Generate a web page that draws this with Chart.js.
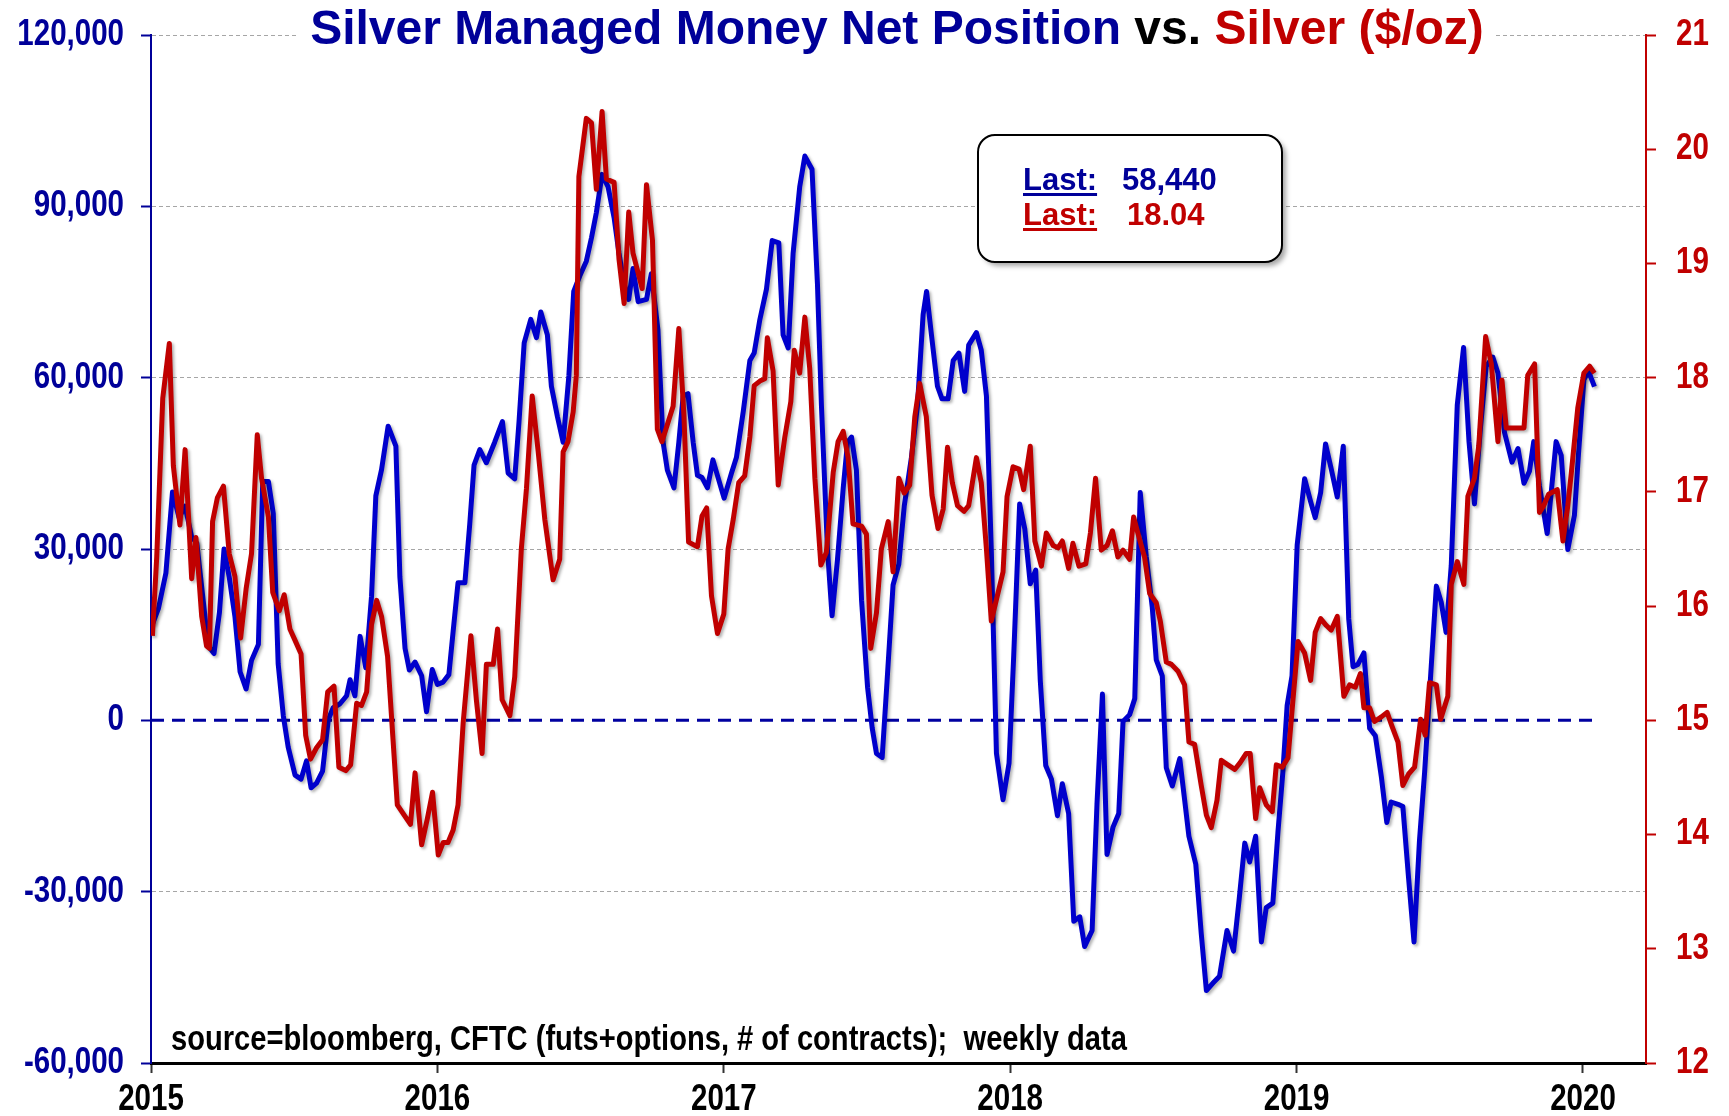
<!DOCTYPE html>
<html lang="en">
<head>
<meta charset="UTF-8">
<title>Silver Managed Money Net Position vs. Silver</title>
<script src="https://cdn.jsdelivr.net/npm/chart.js"></script>
<style>
    body { margin: 0; padding: 0; background: #fff; }
    #wrap { width: 1729px; height: 1116px; position: relative; }
</style>
</head>
<body>
<div id="wrap">
    <canvas id="myChart" width="1729" height="1116"></canvas>
</div>
<script>
    // weekly data, dates as decimal years
    const netDates = [
        2015.005,2015.026,2015.052,2015.075,2015.098,2015.119,2015.142,2015.160,2015.180,2015.200,
        2015.220,2015.239,2015.255,2015.273,2015.293,2015.311,2015.332,2015.351,2015.375,2015.390,
        2015.410,2015.427,2015.444,2015.462,2015.479,2015.503,2015.524,2015.543,2015.559,2015.578,
        2015.599,2015.619,2015.636,2015.660,2015.683,2015.695,2015.712,2015.730,2015.750,2015.770,
        2015.785,2015.805,2015.828,2015.855,2015.869,2015.887,2015.902,2015.922,2015.945,2015.962,
        2015.982,2016.000,2016.020,2016.040,2016.055,2016.072,2016.096,2016.113,2016.128,2016.148,
        2016.171,2016.200,2016.227,2016.247,2016.270,2016.285,2016.303,2016.326,2016.346,2016.361,
        2016.384,2016.398,2016.419,2016.439,2016.459,2016.476,2016.497,2016.520,2016.538,2016.555,
        2016.575,2016.596,2016.617,2016.634,2016.652,2016.668,2016.683,2016.701,2016.730,2016.747,
        2016.770,2016.788,2016.803,2016.826,2016.843,2016.858,2016.875,2016.893,2016.908,2016.924,
        2016.943,2016.962,2016.980,2017.001,2017.027,2017.044,2017.068,2017.091,2017.106,2017.126,
        2017.149,2017.169,2017.192,2017.207,2017.225,2017.242,2017.265,2017.283,2017.308,2017.327,
        2017.341,2017.362,2017.378,2017.397,2017.417,2017.432,2017.446,2017.463,2017.481,2017.502,
        2017.518,2017.533,2017.553,2017.571,2017.591,2017.611,2017.630,2017.655,2017.676,2017.696,
        2017.708,2017.725,2017.746,2017.762,2017.783,2017.801,2017.821,2017.841,2017.855,2017.882,
        2017.899,2017.917,2017.934,2017.952,2017.975,2017.996,2018.012,2018.033,2018.051,2018.070,
        2018.089,2018.105,2018.124,2018.144,2018.165,2018.182,2018.204,2018.222,2018.243,2018.260,
        2018.286,2018.303,2018.322,2018.338,2018.359,2018.379,2018.394,2018.417,2018.435,2018.454,
        2018.475,2018.496,2018.510,2018.531,2018.545,2018.566,2018.592,2018.609,2018.624,2018.648,
        2018.667,2018.685,2018.708,2018.731,2018.757,2018.780,2018.799,2018.819,2018.836,2018.857,
        2018.877,2018.894,2018.917,2018.935,2018.952,2018.967,2018.984,2019.002,2019.028,2019.049,
        2019.065,2019.084,2019.101,2019.121,2019.142,2019.163,2019.182,2019.197,2019.214,2019.235,
        2019.255,2019.275,2019.296,2019.315,2019.330,2019.354,2019.371,2019.391,2019.410,2019.429,
        2019.447,2019.468,2019.488,2019.505,2019.522,2019.540,2019.561,2019.583,2019.602,2019.621,
        2019.642,2019.662,2019.685,2019.703,2019.726,2019.752,2019.773,2019.794,2019.813,2019.828,
        2019.848,2019.875,2019.889,2019.906,2019.924,2019.947,2019.970,2019.984,2020.003,2020.019,
        2020.040
    ];
    const netContracts = [
        16800,19600,25800,40000,35500,37500,32100,31000,22000,13000,
        11700,18900,30000,25100,18200,8500,5500,10500,13300,41800,
        41800,36200,9900,800,-4700,-9600,-10300,-7100,-11800,-11000,
        -8900,100,2200,2900,4300,7100,4300,14700,9200,21700,
        39300,43900,51500,48000,25100,12600,8800,10200,7800,1500,
        8900,6300,6700,8000,15600,24100,24100,34400,44700,47400,
        45100,48700,52300,43300,42300,52300,66100,70200,67000,71500,
        67500,58500,53200,48700,60300,75100,77800,80400,84500,88900,
        95600,93400,88000,81800,76400,73700,79100,73300,73700,78200,
        68400,48700,43800,40700,48700,56800,57200,48700,42900,42500,
        40700,45600,42500,38900,43300,46000,54100,63000,64300,70200,
        75500,84000,83600,67500,65200,81800,93400,98800,96500,76400,
        55000,29900,18300,28200,40700,48700,49600,43800,21000,5800,
        -1300,-5800,-6500,7600,23700,27300,37500,46000,55000,71100,
        75100,67500,58500,56300,56300,63000,64300,57600,65700,67900,
        64800,56800,29900,-5800,-13900,-7500,11000,37900,33500,23900,
        26300,7000,-7900,-10300,-16700,-11100,-16300,-35200,-34400,-39600,
        -36800,-14700,4600,-23500,-18700,-16300,-200,1000,3800,39900,
        28700,19800,10600,7800,-8300,-11500,-6700,-13900,-20300,-25200,
        -37300,-47300,-46000,-44800,-36800,-40400,-31600,-21500,-24800,-20300,
        -38800,-32800,-32000,-19500,-9100,2600,7800,30700,42300,38300,
        35500,39900,48400,44000,39100,48000,17800,9400,9800,11800,
        -1400,-2700,-9900,-17900,-14300,-14700,-15100,-27600,-38800,-21100,
        -9100,7800,23500,20700,15400,27100,55200,65300,48800,37900,
        51200,62000,63600,60800,50400,45200,47600,41500,43600,48800,
        41000,32700,39900,48800,46400,29900,35900,46400,59600,61200,
        58440
    ];
    const silverDates = [
        2015.005,2015.020,2015.041,2015.064,2015.078,2015.101,2015.119,2015.142,2015.157,2015.177,
        2015.194,2015.204,2015.215,2015.232,2015.253,2015.273,2015.293,2015.313,2015.332,2015.351,
        2015.371,2015.386,2015.410,2015.425,2015.448,2015.465,2015.485,2015.503,2015.524,2015.540,
        2015.557,2015.578,2015.599,2015.617,2015.639,2015.656,2015.680,2015.697,2015.718,2015.735,
        2015.753,2015.770,2015.788,2015.805,2015.826,2015.844,2015.860,2015.884,2015.906,2015.922,
        2015.945,2015.965,2015.983,2016.003,2016.020,2016.037,2016.055,2016.072,2016.090,2016.117,
        2016.136,2016.156,2016.171,2016.195,2016.210,2016.226,2016.253,2016.270,2016.293,2016.311,
        2016.331,2016.352,2016.375,2016.404,2016.427,2016.439,2016.456,2016.474,2016.485,2016.494,
        2016.520,2016.538,2016.555,2016.575,2016.590,2016.617,2016.634,2016.652,2016.668,2016.683,
        2016.715,2016.730,2016.751,2016.768,2016.784,2016.823,2016.843,2016.861,2016.877,2016.908,
        2016.924,2016.940,2016.957,2016.978,2017.000,2017.015,2017.033,2017.052,2017.073,2017.091,
        2017.106,2017.126,2017.143,2017.152,2017.172,2017.190,2017.213,2017.234,2017.246,2017.265,
        2017.283,2017.300,2017.318,2017.339,2017.358,2017.382,2017.399,2017.417,2017.434,2017.451,
        2017.481,2017.498,2017.513,2017.533,2017.550,2017.574,2017.591,2017.611,2017.630,2017.649,
        2017.667,2017.684,2017.707,2017.727,2017.748,2017.766,2017.781,2017.798,2017.816,2017.839,
        2017.855,2017.882,2017.899,2017.917,2017.934,2017.955,2017.975,2017.989,2018.010,2018.031,
        2018.047,2018.070,2018.086,2018.109,2018.126,2018.150,2018.167,2018.182,2018.204,2018.219,
        2018.240,2018.264,2018.280,2018.298,2018.318,2018.338,2018.357,2018.376,2018.394,2018.417,
        2018.431,2018.450,2018.469,2018.487,2018.510,2018.524,2018.545,2018.563,2018.586,2018.609,
        2018.624,2018.644,2018.667,2018.685,2018.702,2018.722,2018.737,2018.760,2018.784,2018.803,
        2018.824,2018.838,2018.857,2018.871,2018.894,2018.915,2018.929,2018.950,2018.970,2018.987,
        2019.005,2019.028,2019.049,2019.065,2019.084,2019.104,2019.121,2019.142,2019.165,2019.185,
        2019.205,2019.223,2019.235,2019.255,2019.272,2019.296,2019.316,2019.333,2019.354,2019.371,
        2019.391,2019.412,2019.433,2019.449,2019.464,2019.488,2019.503,2019.528,2019.540,2019.561,
        2019.584,2019.598,2019.621,2019.636,2019.660,2019.680,2019.703,2019.717,2019.732,2019.759,
        2019.794,2019.807,2019.831,2019.848,2019.863,2019.880,2019.910,2019.930,2019.947,2019.959,
        2019.982,2020.003,2020.023,2020.040
    ];
    const silverPrice = [
        15.74,16.43,17.82,18.30,17.23,16.71,17.37,16.24,16.60,15.91,
        15.65,15.63,16.74,16.95,17.05,16.46,16.26,15.72,16.15,16.46,
        17.50,17.12,16.78,16.12,15.96,16.10,15.80,15.70,15.58,14.87,
        14.66,14.76,14.83,15.25,15.30,14.59,14.56,14.61,15.15,15.13,
        15.25,15.84,16.05,15.91,15.56,14.87,14.26,14.17,14.09,14.54,
        13.91,14.14,14.37,13.82,13.93,13.93,14.04,14.26,14.98,15.74,
        15.18,14.71,15.49,15.49,15.80,15.18,15.04,15.38,16.50,17.03,
        17.84,17.35,16.76,16.23,16.41,17.35,17.44,17.70,18.02,19.76,
        20.27,20.23,19.65,20.33,19.74,19.71,19.04,18.65,19.45,19.09,
        18.78,19.69,19.20,17.55,17.44,17.75,18.43,17.66,16.56,16.52,
        16.79,16.86,16.09,15.76,15.93,16.50,16.76,17.08,17.14,17.48,
        17.93,17.97,17.99,18.35,18.06,17.06,17.48,17.79,18.24,18.04,
        18.53,18.08,17.12,16.36,16.47,17.17,17.44,17.53,17.30,16.72,
        16.70,16.63,15.63,15.94,16.50,16.74,16.30,17.12,16.99,17.06,
        17.66,17.95,17.66,16.97,16.68,16.85,17.39,17.08,16.88,16.83,
        16.88,17.30,17.08,16.50,15.87,16.09,16.30,16.96,17.22,17.20,
        17.02,17.40,16.57,16.35,16.64,16.53,16.51,16.57,16.33,16.55,
        16.35,16.37,16.64,17.12,16.49,16.53,16.66,16.43,16.49,16.41,
        16.78,16.60,16.43,16.11,16.03,15.87,15.51,15.49,15.43,15.31,
        14.81,14.79,14.43,14.17,14.06,14.30,14.65,14.61,14.57,14.63,
        14.71,14.71,14.14,14.41,14.26,14.20,14.61,14.59,14.67,15.17,
        15.69,15.59,15.35,15.77,15.89,15.83,15.79,15.91,15.21,15.31,
        15.29,15.41,15.11,15.11,14.99,15.03,15.07,14.95,14.81,14.43,
        14.53,14.59,15.01,14.87,15.33,15.31,15.01,15.21,16.19,16.39,
        16.19,16.96,17.12,17.40,18.36,18.12,17.44,17.98,17.56,17.56,
        17.56,18.02,18.12,16.82,16.88,16.98,17.02,16.57,16.88,17.16,
        17.74,18.04,18.10,18.04
    ];
    const zeroDates = [2015.0, 2020.04];
    const zeroValues = [0, 0];
    const lastNet = '58,440';
    const lastSilver = '18.04';

    const NAVY = '#000099';
    const BLUE = '#0000CC';
    const RED = '#C00000';
    const FONT = '"Liberation Sans", Arial, sans-serif';
    const NARROW_X = 0.82; // horizontal squeeze to imitate a narrow bold face

    function pairs(xs, ys) {
        return xs.map((x, i) => ({ x: x, y: ys[i] }));
    }

    function narrowText(ctx, text, x, y, size, color, align) {
        ctx.save();
        ctx.font = 'bold ' + size + 'px ' + FONT;
        ctx.fillStyle = color;
        ctx.textAlign = align;
        ctx.textBaseline = 'middle';
        ctx.translate(x, y);
        ctx.scale(NARROW_X, 1);
        ctx.fillText(text, 0, 0);
        ctx.restore();
    }

    // title, axis labels, source note and the "Last" box, plus a soft shadow on the two series
    const decor = {
        id: 'decor',
        beforeDatasetDraw(chart, args) {
            if (args.index > 1) return;
            const ctx = chart.ctx;
            ctx.save();
            ctx.shadowColor = 'rgba(0,0,0,0.3)';
            ctx.shadowBlur = 3;
            ctx.shadowOffsetX = 2;
            ctx.shadowOffsetY = 2;
        },
        afterDatasetDraw(chart, args) {
            if (args.index > 1) return;
            chart.ctx.restore();
        },
        afterDraw(chart) {
            const ctx = chart.ctx;
            const sx = chart.scales.x, sy = chart.scales.y, sy2 = chart.scales.y2;
            ctx.save();

            // tick labels, placed through the scales
            sy.ticks.forEach(t => {
                narrowText(ctx, t.value.toLocaleString('en-US'), sy.right - 27, sy.getPixelForValue(t.value), 36, NAVY, 'right');
            });
            sy2.ticks.forEach(t => {
                narrowText(ctx, String(t.value), sy2.left + 30, sy2.getPixelForValue(t.value), 36, RED, 'left');
            });
            sx.ticks.forEach(t => {
                narrowText(ctx, String(t.value), sx.getPixelForValue(t.value), sx.top + 37, 36, '#000', 'center');
            });

            // title
            ctx.font = 'bold 48px ' + FONT;
            const parts = [
                ['Silver Managed Money Net Position', NAVY],
                [' vs. ', '#000'],
                ['Silver ($/oz)', RED]
            ];
            let total = 0;
            parts.forEach(p => { total += ctx.measureText(p[0]).width; });
            let x = 897 - total / 2;
            ctx.fillStyle = '#fff';
            ctx.fillRect(x - 12, 0, total + 24, 52);
            ctx.textBaseline = 'alphabetic';
            ctx.textAlign = 'left';
            parts.forEach(p => {
                ctx.fillStyle = p[1];
                ctx.fillText(p[0], x, 44);
                x += ctx.measureText(p[0]).width;
            });

            // source note
            narrowText(ctx, 'source=bloomberg, CFTC (futs+options, # of contracts);  weekly data', 171, 1040, 35.5, '#000', 'left');

            // last value box
            ctx.save();
            ctx.shadowColor = 'rgba(0,0,0,0.35)';
            ctx.shadowBlur = 5;
            ctx.shadowOffsetX = 4;
            ctx.shadowOffsetY = 4;
            ctx.beginPath();
            ctx.roundRect(978, 135, 304, 127, 17);
            ctx.fillStyle = '#fff';
            ctx.fill();
            ctx.restore();
            ctx.beginPath();
            ctx.roundRect(978, 135, 304, 127, 17);
            ctx.lineWidth = 2;
            ctx.strokeStyle = '#000';
            ctx.stroke();

            ctx.font = 'bold 31px ' + FONT;
            ctx.textBaseline = 'alphabetic';
            ctx.textAlign = 'left';
            const lw = ctx.measureText('Last:').width;
            ctx.fillStyle = NAVY;
            ctx.fillText('Last:', 1023, 190);
            ctx.fillRect(1023, 193, lw, 3);
            ctx.fillText(lastNet, 1122, 190);
            ctx.fillStyle = RED;
            ctx.fillText('Last:', 1023, 225);
            ctx.fillRect(1023, 228, lw, 3);
            ctx.fillText(lastSilver, 1127, 225);

            ctx.restore();
        }
    };

    const ctx = document.getElementById('myChart').getContext('2d');
    new Chart(ctx, {
        type: 'line',
        data: {
            datasets: [{
                label: 'Silver ($/oz)',
                data: pairs(silverDates, silverPrice),
                yAxisID: 'y2',
                borderColor: RED,
                borderWidth: 5,
                pointRadius: 0,
                tension: 0,
                borderJoinStyle: 'round',
                order: 0
            }, {
                label: 'Managed Money Net Position',
                data: pairs(netDates, netContracts),
                yAxisID: 'y',
                borderColor: BLUE,
                borderWidth: 5,
                pointRadius: 0,
                tension: 0,
                borderJoinStyle: 'round',
                order: 1
            }, {
                label: 'zero',
                data: pairs(zeroDates, zeroValues),
                yAxisID: 'y',
                borderColor: '#0000A0',
                borderWidth: 3,
                borderDash: [13, 8],
                pointRadius: 0,
                order: 2
            }]
        },
        options: {
            responsive: false,
            animation: false,
            layout: { padding: { top: 35, left: 0, right: 0, bottom: 0 } },
            plugins: {
                legend: { display: false },
                tooltip: { enabled: false },
                title: { display: false }
            },
            scales: {
                x: {
                    type: 'linear',
                    min: 2015,
                    max: 2020.22,
                    afterFit: s => { s.height = 53; },
                    ticks: { stepSize: 1, includeBounds: false, autoSkip: false, display: false },
                    grid: { drawOnChartArea: false, tickLength: 10, tickColor: '#333', tickWidth: 2 },
                    border: { color: '#000', width: 3 }
                },
                y: {
                    position: 'left',
                    min: -60000,
                    max: 120000,
                    afterFit: s => { s.width = 151; },
                    ticks: { stepSize: 30000, display: false },
                    grid: {
                        color: c => (c.tick && c.tick.value === 0) ? 'rgba(0,0,0,0)' : '#a6a6a6',
                        lineWidth: 1,
                        tickLength: 10,
                        tickColor: NAVY,
                        tickWidth: 2,
                        tickBorderDash: []
                    },
                    border: { color: NAVY, width: 2, dash: [4, 3] }
                },
                y2: {
                    position: 'right',
                    min: 12,
                    max: 21,
                    afterFit: s => { s.width = 83; },
                    ticks: { stepSize: 1, display: false },
                    grid: { drawOnChartArea: false, tickLength: 10, tickColor: RED, tickWidth: 2 },
                    border: { color: RED, width: 2 }
                }
            }
        },
        plugins: [decor]
    });
</script>
</body>
</html>
